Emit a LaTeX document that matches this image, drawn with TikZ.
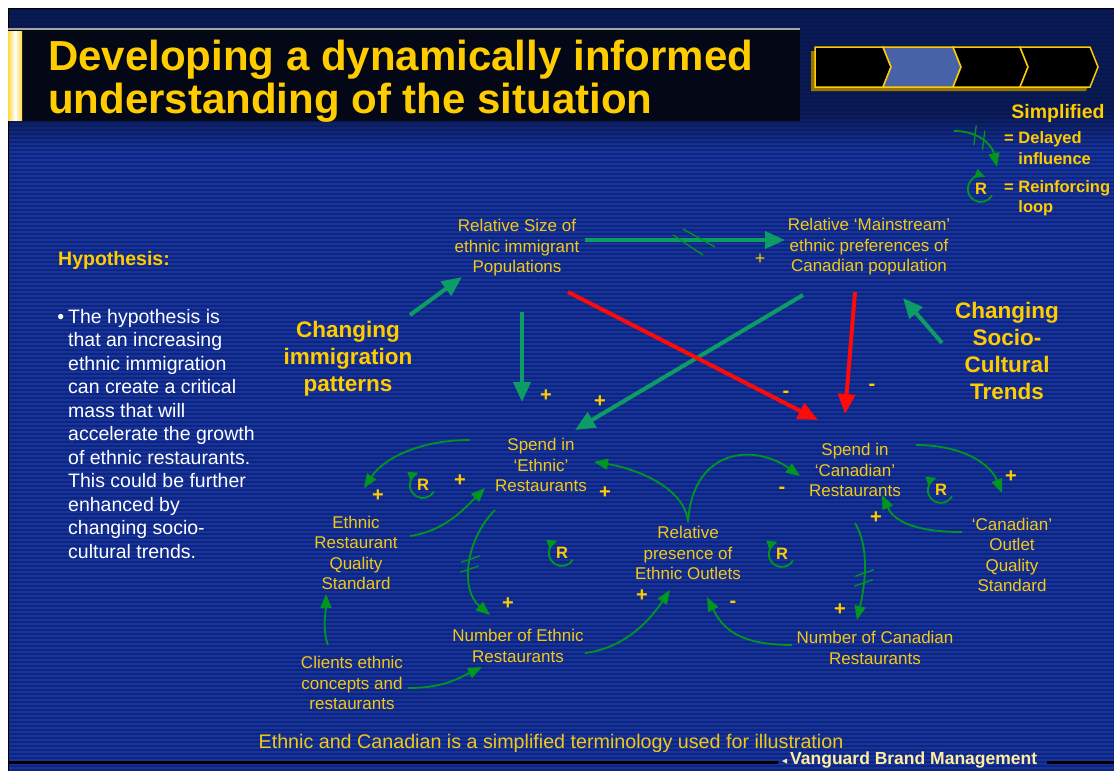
\documentclass[tikz,border=0pt]{standalone}
\usepackage{fontspec}
\setmainfont{Liberation Sans}
\usetikzlibrary{arrows.meta,decorations.markings}
\definecolor{slideblue}{RGB}{22,52,160}
\definecolor{slidenavy}{RGB}{10,26,84}
\definecolor{streak}{RGB}{6,16,70}
\definecolor{bandblack}{RGB}{4,8,22}
\definecolor{titleyellow}{RGB}{255,204,0}
\definecolor{labelyellow}{RGB}{242,200,24}
\definecolor{linkteal}{RGB}{12,156,100}
\definecolor{loopgreen}{RGB}{0,150,32}
\definecolor{redlink}{RGB}{255,10,10}
\definecolor{cream}{RGB}{255,238,160}
\definecolor{chevblue}{RGB}{72,98,168}
\definecolor{chevshadow}{RGB}{150,118,0}

\begin{document}
\begin{tikzpicture}[x=1pt,y=-1pt,
  label/.style={text=labelyellow,align=center,inner sep=1pt,font=\fontsize{17}{20.5}\selectfont},
  trend/.style={text=titleyellow,align=center,inner sep=1pt,font=\bfseries\fontsize{22.5}{27}\selectfont},
  sign/.style={text=titleyellow,inner sep=0pt,font=\bfseries\fontsize{20}{20}\selectfont},
  rmark/.style={text=titleyellow,inner sep=0pt,font=\bfseries\fontsize{16.5}{16}\selectfont},
  legend/.style={text=titleyellow,align=left,inner sep=0pt,anchor=west,font=\bfseries\fontsize{16.5}{20.5}\selectfont},
  bigarrow/.style={linkteal,line width=4pt,-{Triangle[length=20pt,width=17pt]}},
  redarrow/.style={bigarrow,redlink},
  thinarrow/.style={loopgreen,line width=1.8pt,-{Triangle[length=14pt,width=11pt]}},
  rloop/.style={thinarrow,-{Triangle[length=10pt,width=9pt]}},
  delaystroke/.style={loopgreen,line width=1.3pt,arrows=-},
  delayed/.style={postaction={decorate,decoration={markings,mark=at position #1 with {\draw[delaystroke] (-7,-9) -- (1,9); \draw[delaystroke] (3,-9) -- (11,9);}}}},
  thickdelay/.style={postaction={decorate,decoration={markings,mark=at position #1 with {\draw[delaystroke] (-20,-5) -- (10,15); \draw[delaystroke] (-10,-11) -- (22,7);}}}},
  chevron/.style={draw=titleyellow,line width=1.5pt,line join=miter}]
\useasboundingbox (0,0) rectangle (1114,771);
% slide background
\fill[white] (0,0) rectangle (1114,771);
\fill[slideblue] (8,8) rectangle (1114,771);
\fill[slidenavy] (8,8) rectangle (1114,112);
\shade[top color=slidenavy,bottom color=slideblue] (8,111) rectangle (1114,150);
\foreach \ty in {10,14,...,770} {\draw[streak,opacity=0.4,line width=1.2pt] (9,\ty) -- (1114,\ty);}
\draw[black,line width=1pt] (8,771) -- (8,8) -- (1114,8);
\fill[bandblack] (8,29) rectangle (800,121);
\draw[gray!70,line width=1.5pt] (8,29) -- (800,29);
\shade[left color=titleyellow!75,right color=titleyellow!75,middle color=white] (8,31) rectangle (22,120);
\node[anchor=north west,inner sep=0pt,align=left,text=titleyellow,font=\bfseries\fontsize{42}{43}\selectfont] (title) at (48,40) {Developing a dynamically informed\\understanding of the situation};
% progress chevrons
\fill[chevshadow] (811,51) -- (1086,51) -- (1094,71) -- (1086,91) -- (811,91) -- cycle;
\filldraw[chevron,fill=black] (815,47) -- (883,47) -- (891,67) -- (883,87) -- (815,87) -- cycle;
\foreach \l/\r/\c in {883/953/chevblue,953/1020/black,1020/1090/black} {\filldraw[chevron,fill=\c] (\l,47) -- (\r,47) -- (\r+8,67) -- (\r,87) -- (\l,87) -- (\l+8,67) -- cycle;}
% legend
\node[text=titleyellow,inner sep=0pt,font=\bfseries\fontsize{19.5}{20}\selectfont] (simpl) at (1058,113) {Simplified};
\node[legend] (legdelay) at (1004,148) {= Delayed\\\hphantom{= }influence};
\node[legend] (legloop) at (1004,198) {= Reinforcing\\\hphantom{= }loop};
\coordinate (legA) at (954,131); \coordinate (legB) at (997,167);
\draw[thinarrow,delayed=0.4] (legA) .. controls +(25,0) and +(-5,-22) .. (legB);
\node[rmark] (legR) at (981,189) {R};
\draw[rloop] ([shift={(11,6.5)}]legR.center) arc[start angle=30,end angle=290,radius=13];
% hypothesis
\node[anchor=west,inner sep=0pt,text=titleyellow,font=\bfseries\fontsize{19.5}{20}\selectfont] (hyp) at (58,260) {Hypothesis:};
\node[anchor=north west,inner sep=0pt,align=left,text=white,font=\fontsize{19.5}{23.5}\selectfont] (hyptext) at (68,309) {\llap{\textbullet\hspace{4pt}}The hypothesis is\\that an increasing\\ethnic immigration\\can create a critical\\mass that will\\accelerate the growth\\of ethnic restaurants.\\This could be further\\enhanced by\\changing socio-\\cultural trends.};
% variables
\node[label] (pop) at (517,248) {Relative Size of\\ethnic immigrant\\Populations};
\node[label] (main) at (869,247) {Relative ‘Mainstream’\\ethnic preferences of\\Canadian population};
\node[label] (spendE) at (541,465) {Spend in\\‘Ethnic’\\Restaurants};
\node[label] (spendC) at (855,470) {Spend in\\‘Canadian’\\Restaurants};
\node[label] (qualE) at (356,553) {Ethnic\\Restaurant\\Quality\\Standard};
\node[label] (qualC) at (1012,555) {‘Canadian’\\Outlet\\Quality\\Standard};
\node[label] (pres) at (688,553) {Relative\\presence of\\Ethnic Outlets};
\node[label] (numE) at (518,646) {Number of Ethnic\\Restaurants};
\node[label] (numC) at (875,648) {Number of Canadian\\Restaurants};
\node[label] (clients) at (352,683) {Clients ethnic\\concepts and\\restaurants};
\node[trend] (imm) at (348,359) {Changing\\immigration\\patterns};
\node[trend] (socio) at (1007,351) {Changing\\Socio-\\Cultural\\Trends};
% main links
\draw[bigarrow,thickdelay=0.54] ([shift={(68,-8)}]pop.center) -- ([shift={(-84,-7)}]main.center);
\draw[bigarrow] ([shift={(5,64)}]pop.center) -- ([shift={(-19,-63)}]spendE.center);
\draw[bigarrow] ([shift={(-66,48)}]main.center) -- ([shift={(34,-35)}]spendE.center);
\draw[redarrow] ([shift={(51,44)}]pop.center) -- ([shift={(-37,-50)}]spendC.center);
\draw[redarrow] ([shift={(-14,45)}]main.center) -- ([shift={(-10,-56)}]spendC.center);
\draw[bigarrow] ([shift={(62,-44)}]imm.center) -- ([shift={(-55,29)}]pop.center);
\draw[bigarrow] ([shift={(-65,-8)}]socio.center) -- ([shift={(34,51)}]main.center);
% loops
\draw[thinarrow] ([shift={(-71,-25)}]spendE.center) .. controls +(-50,0) and +(20,-30) .. ([shift={(8,-65)}]qualE.center);
\draw[thinarrow] ([shift={(54,-17)}]qualE.center) .. controls +(35,-5) and +(-20,20) .. ([shift={(-56,23)}]spendE.center);
\draw[thinarrow,delayed=0.5] ([shift={(-46,45)}]spendE.center) .. controls +(-30,30) and +(-30,-25) .. ([shift={(-28,-31)}]numE.center);
\draw[thinarrow] ([shift={(67,7)}]numE.center) .. controls +(40,-5) and +(-20,30) .. ([shift={(-18,37)}]pres.center);
\draw[thinarrow] ([shift={(0,-31)}]pres.center) .. controls +(-3,-35) and +(40,6) .. ([shift={(53,-3)}]spendE.center);
\draw[thinarrow] ([shift={(0,-31)}]pres.center) .. controls +(5,-75) and +(-45,-32) .. ([shift={(-55,6)}]spendC.center);
\draw[thinarrow] ([shift={(-83,-3)}]numC.center) .. controls +(-55,0) and +(15,30) .. ([shift={(19,44)}]pres.center);
\draw[thinarrow,delayed=0.55] ([shift={(0,53)}]spendC.center) .. controls +(15,25) and +(8,-35) .. ([shift={(-18,-28)}]numC.center);
\draw[thinarrow] ([shift={(61,-25)}]spendC.center) .. controls +(45,0) and +(-12,-30) .. ([shift={(-10,-62)}]qualC.center);
\draw[thinarrow] ([shift={(-50,-23)}]qualC.center) .. controls +(-55,0) and +(10,22) .. ([shift={(27,25)}]spendC.center);
\draw[thinarrow] ([shift={(-24,-38)}]clients.center) .. controls +(-6,-15) and +(0,15) .. ([shift={(-30,41)}]qualE.center);
\draw[thinarrow] ([shift={(56,5)}]clients.center) .. controls +(35,0) and +(-25,12) .. ([shift={(-36,21)}]numE.center);
% reinforcing loop marks
\node[rmark] (r1) at (423,485) {R};
\node[rmark] (r2) at (562,553) {R};
\node[rmark] (r3) at (782,554) {R};
\node[rmark] (r4) at (941,490) {R};
\foreach \r in {r1,r2,r3,r4} {\draw[rloop] ([shift={(11,6.5)}]\r.center) arc[start angle=30,end angle=250,radius=13];}
% polarities
\node[sign,font=\fontsize{18}{18}\selectfont] (s1) at (760,259) {+};
\node[sign] (s2) at (546,396) {+};
\node[sign] (s3) at (600,402) {+};
\node[sign] (s4) at (786,394) {-};
\node[sign] (s5) at (872,387) {-};
\node[sign] (s6) at (378,496) {+};
\node[sign] (s7) at (460,481) {+};
\node[sign] (s8) at (605,493) {+};
\node[sign] (s9) at (782,490) {-};
\node[sign] (s10) at (508,604) {+};
\node[sign] (s11) at (642,596) {+};
\node[sign] (s12) at (733,604) {-};
\node[sign] (s13) at (840,610) {+};
\node[sign] (s14) at (876,518) {+};
\node[sign] (s15) at (1011,477) {+};
% footer
\node[text=labelyellow,inner sep=0pt,font=\fontsize{19.7}{20}\selectfont] (note) at (551,743) {Ethnic and Canadian is a simplified terminology used for illustration};
\draw[black,line width=3pt] (8,762) -- (778,762);
\draw[black,line width=3pt] (1047,762) -- (1114,762);
\fill[cream] (782,761) -- (787,758.5) -- (787,763.5) -- cycle;
\node[anchor=west,inner sep=0pt,text=cream,font=\bfseries\fontsize{17.5}{18}\selectfont] (brand) at (790,760) {Vanguard Brand Management};
\end{tikzpicture}
\end{document}
